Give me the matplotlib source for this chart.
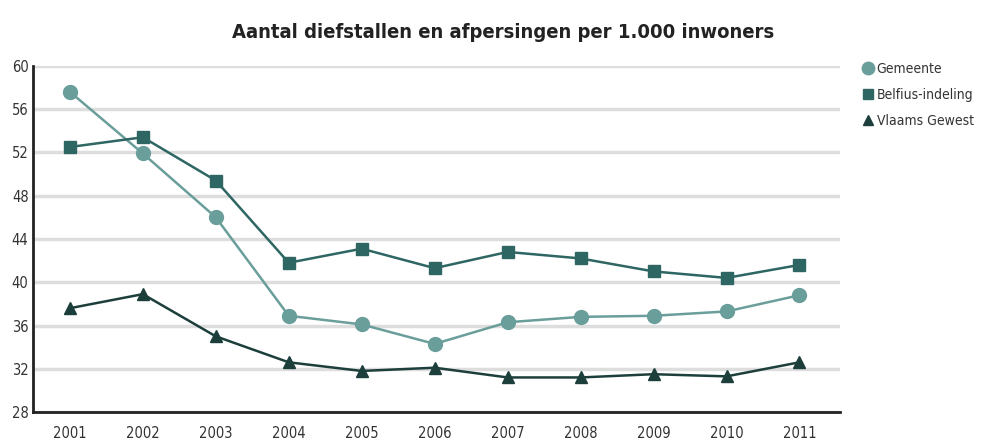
import matplotlib.pyplot as plt
from matplotlib.lines import Line2D

years = [2001, 2002, 2003, 2004, 2005, 2006, 2007, 2008, 2009, 2010, 2011]
gemeente = [57.6, 51.9, 46.0, 36.9, 36.1, 34.3, 36.3, 36.8, 36.9, 37.3, 38.8]
belfius = [52.5, 53.4, 49.4, 41.8, 43.1, 41.3, 42.8, 42.2, 41.0, 40.4, 41.6]
vlaams = [37.6, 38.9, 35.0, 32.6, 31.8, 32.1, 31.2, 31.2, 31.5, 31.3, 32.6]
yticks = [28, 32, 36, 40, 44, 48, 52, 56, 60]
labels = ['Gemeente', 'Belfius-indeling', 'Vlaams Gewest']
colors = ['#6a9e9b', '#2e6663', '#1d3f3c']
markers = ['o', 's', '^']

plt.rcParams['font.family'] = ['DejaVu Sans']
plt.rcParams['font.stretch'] = 'condensed'

fig = plt.figure(figsize=(9.82, 4.45), dpi=100)
ax = fig.add_axes([0.034, 0.074, 0.821, 0.778])

ax.plot(years, gemeente, color=colors[0], lw=1.8, marker='o', ms=10)
ax.plot(years, belfius, color=colors[1], lw=1.8, marker='s', ms=9)
ax.plot(years, vlaams, color=colors[2], lw=1.8, marker='^', ms=9)

ax.set_xlim(2000.5, 2011.55)
ax.set_ylim(28, 60)
ax.set_yticks(yticks)
ax.set_xticks(years)
ax.tick_params(length=0, labelsize=10.5, colors='#333333')
ax.tick_params(axis='x', pad=10)
ax.grid(axis='y', color='#dddddd', lw=2.5)
ax.set_axisbelow(True)
for s in ['top', 'right']:
    ax.spines[s].set_visible(False)
for s in ['left', 'bottom']:
    ax.spines[s].set_linewidth(2)
    ax.spines[s].set_color('#222222')

fig.text(0.512, 0.915, 'Aantal diefstallen en afpersingen per 1.000 inwoners',
         ha='center', fontsize=14.5, fontweight='bold', color='#222222')

handles = [Line2D([], [], ls='none', marker=m, color=c, ms=s)
           for m, c, s in zip(markers, colors, [9, 7, 7])]
leg = ax.legend(handles, labels, loc='upper left', bbox_to_anchor=(1.02, 1.035),
                frameon=False, fontsize=10, handlelength=0.6, handletextpad=0.3,
                labelspacing=0.85, borderaxespad=0.2)
for t in leg.get_texts():
    t.set_color('#333333')

fig.savefig('out.png', dpi=100)
